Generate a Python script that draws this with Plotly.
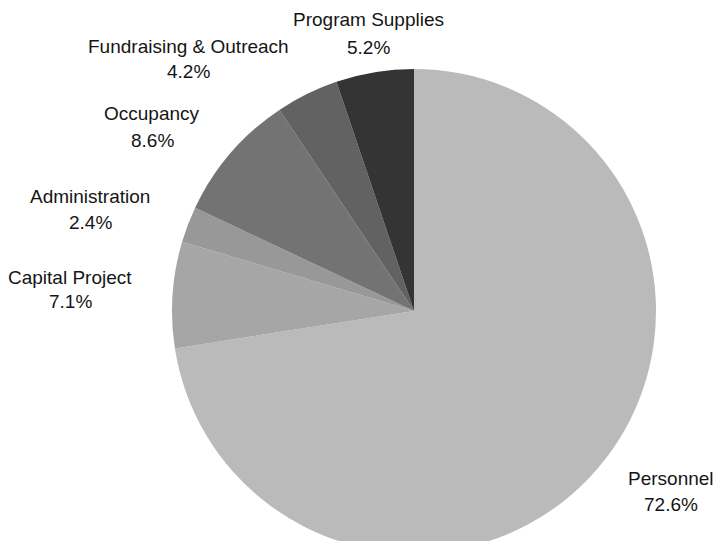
import plotly.graph_objects as go

categories = ["Personnel", "Capital Project", "Administration", "Occupancy",
              "Fundraising & Outreach", "Program Supplies"]
values = [72.6, 7.1, 2.4, 8.6, 4.2, 5.2]
colors = ["#bababa", "#a6a6a6", "#989898", "#737373", "#626262", "#343434"]

W, H = 716, 620
# label centre positions in pixels (name line y, percent line y, x)
label_pos = {
    "Personnel": (671, 478, 504),
    "Capital Project": (70, 277, 301),
    "Administration": (90, 196, 223),
    "Occupancy": (152, 114, 140),
    "Fundraising & Outreach": (188, 46, 72),
    "Program Supplies": (368, 20, 47),
}

fig = go.Figure(go.Pie(
    labels=categories,
    values=values,
    sort=False,
    direction="clockwise",
    rotation=0,
    marker=dict(colors=colors, line=dict(width=0)),
    textinfo="none",
    showlegend=False,
    hoverinfo="label+value",
    domain=dict(x=[172 / W, 656 / W], y=[(H - 553) / H, (H - 69) / H]),
))

font = dict(family="Liberation Sans, Arial, sans-serif", size=19, color="#151515")
for cat, val in zip(categories, values):
    x, y1, y2 = label_pos[cat]
    for txt, y in ((cat, y1), (f"{val:.1f}%", y2)):
        fig.add_annotation(
            text=txt, x=x / W, y=1 - y / H, xref="paper", yref="paper",
            xanchor="center", yanchor="middle", showarrow=False, font=font,
        )

fig.update_layout(
    width=W,
    height=H,
    margin=dict(l=0, r=0, t=0, b=0, autoexpand=False),
    paper_bgcolor="white",
    plot_bgcolor="white",
)

fig.write_html(
    "out.html",
    config={"displayModeBar": False},
    post_script="document.body.style.margin='0';document.body.style.overflow='hidden';",
)
